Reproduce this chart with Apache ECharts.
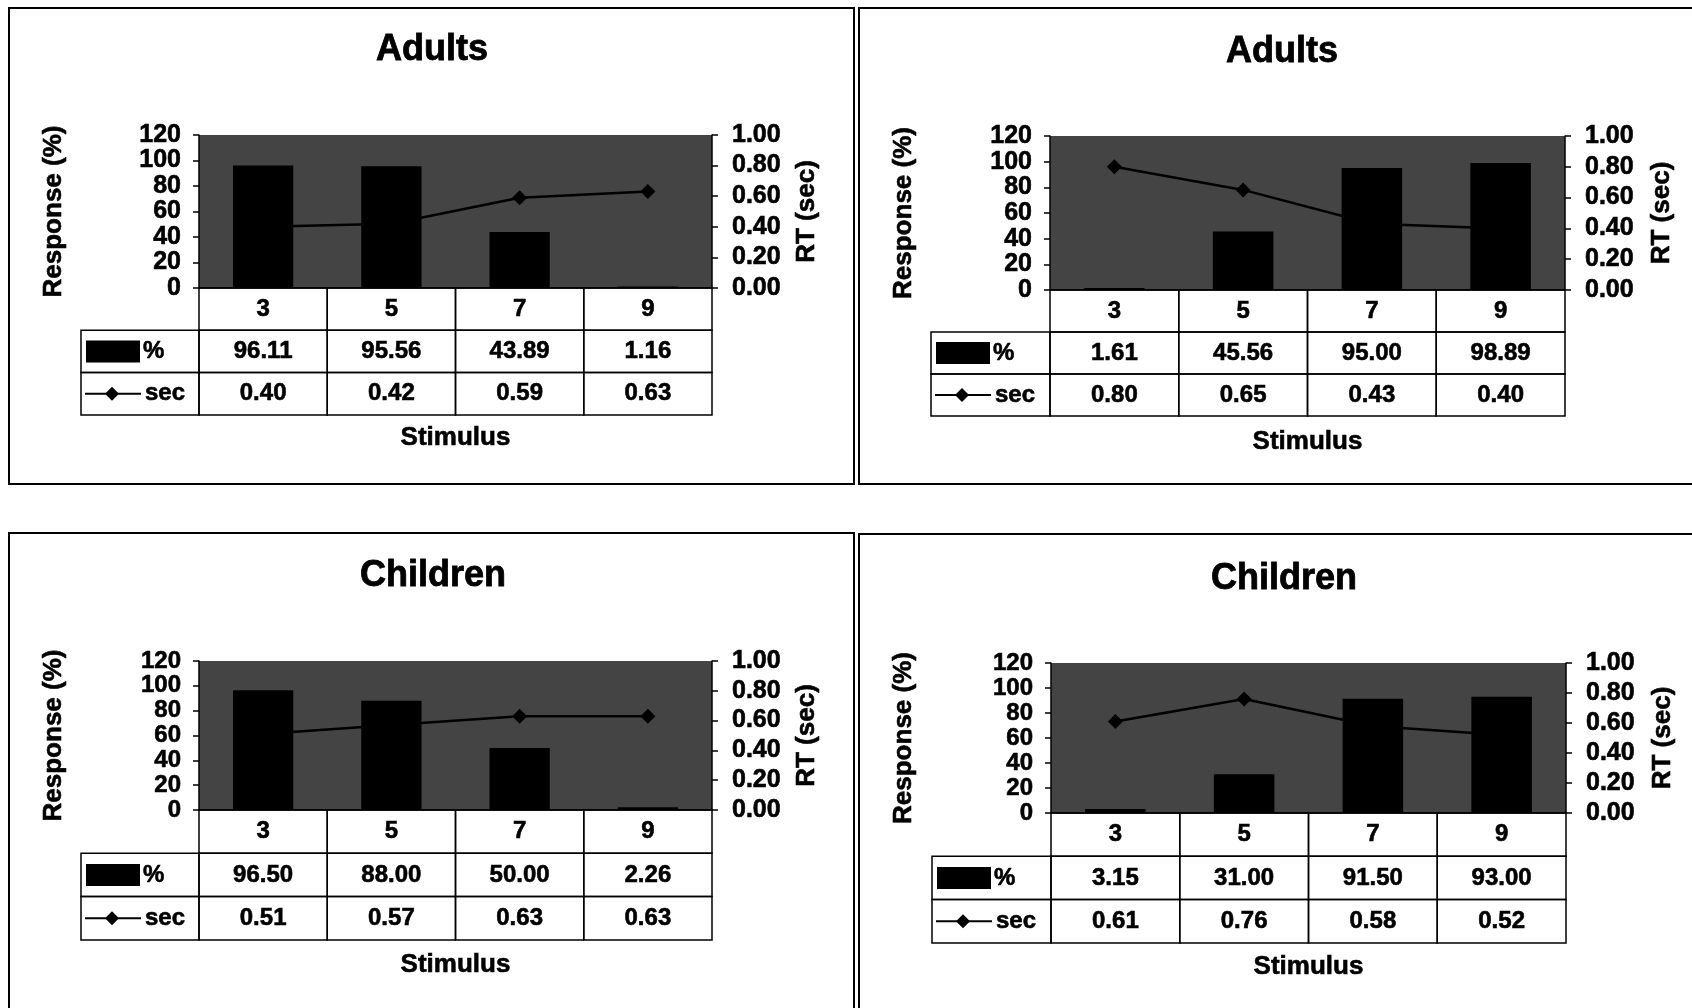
<!DOCTYPE html>
<html>
<head>
<meta charset="utf-8">
<script src="https://cdn.jsdelivr.net/npm/echarts@6/dist/echarts.min.js"></script>
<style>
html,body{margin:0;padding:0;background:#fff;}
#chart{width:1692px;height:1008px;}
</style>
</head>
<body>
<div id="chart"></div>
<script>
// ---------------- data ----------------
const categories = ['3', '5', '7', '9'];
const adultsA_pct = [96.11, 95.56, 43.89, 1.16];
const adultsA_sec = [0.40, 0.42, 0.59, 0.63];
const adultsB_pct = [1.61, 45.56, 95.00, 98.89];
const adultsB_sec = [0.80, 0.65, 0.43, 0.40];
const childrenA_pct = [96.50, 88.00, 50.00, 2.26];
const childrenA_sec = [0.51, 0.57, 0.63, 0.63];
const childrenB_pct = [3.15, 31.00, 91.50, 93.00];
const childrenB_sec = [0.61, 0.76, 0.58, 0.52];
const leftAxisTicks = { min: 0, max: 120, interval: 20 };
const rightAxisTicks = { min: 0, max: 1, interval: 0.2 };
const titles = ['Adults', 'Adults', 'Children', 'Children'];
const leftAxisName = 'Response (%)';
const rightAxisName = 'RT (sec)';
const xAxisName = 'Stimulus';
const pctLegend = '%';
const secLegend = 'sec';

// ---------------- layout ----------------
const FONT = '"Liberation Sans", Arial, Helvetica, sans-serif';
const HEAVY = { textBorderColor: '#000', textBorderWidth: 0.6 };
const layout = [
  { box: [9, 8, 845, 476], gl: 199, gr: 712, gt: 135, gb: 288, rowH: 42.3, legendL: 81, titleX: 432, titleY: 51, lnX: 54, rnX: 807, nameGap: 137, tickFont: 25 },
  { box: [859, 8, 860, 476], gl: 1050, gr: 1565, gt: 136, gb: 290, rowH: 42.0, legendL: 931, titleX: 1282, titleY: 53, lnX: 904, rnX: 1662, nameGap: 139, tickFont: 25 },
  { box: [9, 533, 845, 500], gl: 199, gr: 712, gt: 661, gb: 810, rowH: 43.3, legendL: 81, titleX: 433, titleY: 577, lnX: 54, rnX: 807, nameGap: 142, tickFont: 24 },
  { box: [859, 534, 860, 500], gl: 1051, gr: 1566, gt: 663, gb: 813, rowH: 43.3, legendL: 932, titleX: 1284, titleY: 580, lnX: 904, rnX: 1663, nameGap: 141, tickFont: 24 }
];
const pctData = [adultsA_pct, adultsB_pct, childrenA_pct, childrenB_pct];
const secData = [adultsA_sec, adultsB_sec, childrenA_sec, childrenB_sec];

const option = {
  animation: false,
  backgroundColor: '#fff',
  title: [], grid: [], xAxis: [], yAxis: [], series: [], graphic: []
};

const gText = (x, y, text, size, align, rot) => ({
  type: 'text', x: x, y: y, rotation: rot || 0,
  style: { text: text, textAlign: align, textVerticalAlign: 'middle',
    font: 'bold ' + size + 'px ' + FONT, fill: '#000', stroke: '#000', lineWidth: 0.6 }
});

layout.forEach((L, k) => {
  option.title.push({
    text: titles[k], left: L.titleX, top: L.titleY - 19, textAlign: 'center', padding: 0,
    textStyle: { fontSize: 36, fontWeight: 'bold', fontFamily: FONT, color: '#000', textBorderColor: '#000', textBorderWidth: 0.8 }
  });
  option.grid.push({
    left: L.gl, top: L.gt, width: L.gr - L.gl, height: L.gb - L.gt,
    show: true, backgroundColor: '#444444', borderWidth: 0
  });
  option.xAxis.push({
    type: 'category', gridIndex: k, data: categories,
    axisLine: { show: true, lineStyle: { color: '#000', width: 1.5 } },
    axisTick: { show: false },
    axisLabel: Object.assign({ margin: 9, fontSize: 24, fontWeight: 'bold', fontFamily: FONT, color: '#000' }, HEAVY),
    name: xAxisName, nameLocation: 'middle', nameGap: L.nameGap,
    nameTextStyle: Object.assign({ fontSize: 26, fontWeight: 'bold', fontFamily: FONT, color: '#000' }, HEAVY)
  });
  option.yAxis.push({
    type: 'value', gridIndex: k, position: 'left',
    min: leftAxisTicks.min, max: leftAxisTicks.max, interval: leftAxisTicks.interval,
    axisLine: { show: true, lineStyle: { color: '#000', width: 1.5 } },
    axisTick: { show: true, length: 6, lineStyle: { color: '#000', width: 1.5 } },
    splitLine: { show: false },
    axisLabel: Object.assign({ margin: 18, fontSize: L.tickFont, fontWeight: 'bold', fontFamily: FONT, color: '#000',
      showMinLabel: true, showMaxLabel: true, hideOverlap: false }, HEAVY)
  });
  option.yAxis.push({
    type: 'value', gridIndex: k, position: 'right',
    min: rightAxisTicks.min, max: rightAxisTicks.max, interval: rightAxisTicks.interval,
    axisLine: { show: true, lineStyle: { color: '#000', width: 1.5 } },
    axisTick: { show: true, length: 6, lineStyle: { color: '#000', width: 1.5 } },
    splitLine: { show: false },
    axisLabel: Object.assign({ margin: 20, fontSize: 25, fontWeight: 'bold', fontFamily: FONT, color: '#000',
      showMinLabel: true, showMaxLabel: true, hideOverlap: false,
      formatter: v => v.toFixed(2) }, HEAVY)
  });
  option.series.push({
    type: 'bar', xAxisIndex: k, yAxisIndex: 2 * k, data: pctData[k],
    barWidth: '47%', itemStyle: { color: '#000' }, z: 2
  });
  option.series.push({
    type: 'line', xAxisIndex: k, yAxisIndex: 2 * k + 1, data: secData[k],
    symbol: 'diamond', symbolSize: 15, lineStyle: { color: '#000', width: 2.5 },
    itemStyle: { color: '#000' }, z: 4
  });
  // data table cells (under each category), positioned through the category axis
  const rowH = L.rowH;
  const pcts = pctData[k], secs = secData[k];
  option.series.push({
    type: 'custom', xAxisIndex: k, yAxisIndex: 2 * k, clip: false, silent: true, z: 3,
    data: categories.map((c, i) => [i, 0]),
    renderItem: (params, api) => {
      const i = api.value(0);
      const c = api.coord([i, 0]);
      const w = api.size([1, 0])[0];
      const x0 = c[0] - w / 2, y0 = c[1];
      const cell = (yy) => ({ type: 'rect', shape: { x: x0, y: yy, width: w, height: rowH },
        style: { fill: 'none', stroke: '#000', lineWidth: 1.5 } });
      const txt = (yy, t) => ({ type: 'text', style: { x: c[0], y: yy, text: t,
        textAlign: 'center', textVerticalAlign: 'middle',
        font: 'bold 24px ' + FONT, fill: '#000', stroke: '#000', lineWidth: 0.6 } });
      return { type: 'group', children: [
        cell(y0), cell(y0 + rowH), cell(y0 + 2 * rowH),
        txt(y0 + 1.5 * rowH, pcts[i].toFixed(2)),
        txt(y0 + 2.5 * rowH, secs[i].toFixed(2))
      ] };
    }
  });

  // panel frame
  option.graphic.push({ type: 'rect', shape: { x: L.box[0], y: L.box[1], width: L.box[2], height: L.box[3] },
    style: { fill: 'none', stroke: '#000', lineWidth: 2 }, z: 0 });
  // axis names
  option.graphic.push(gText(L.lnX, (L.gt + L.gb) / 2, leftAxisName, 26, 'center', Math.PI / 2));
  option.graphic.push(gText(L.rnX, (L.gt + L.gb) / 2, rightAxisName, 26, 'center', Math.PI / 2));
  // legend key column of the table
  const r1 = L.gb + rowH, r2 = L.gb + 2 * rowH, lw = L.gl - L.legendL;
  option.graphic.push({ type: 'rect', shape: { x: L.legendL, y: r1, width: lw, height: rowH },
    style: { fill: 'none', stroke: '#000', lineWidth: 1.5 } });
  option.graphic.push({ type: 'rect', shape: { x: L.legendL, y: r2, width: lw, height: rowH },
    style: { fill: 'none', stroke: '#000', lineWidth: 1.5 } });
  option.graphic.push({ type: 'rect', shape: { x: L.legendL + 5, y: r1 + rowH / 2 - 11, width: 54, height: 22 },
    style: { fill: '#000' } });
  option.graphic.push(gText(L.legendL + 62, r1 + rowH / 2, pctLegend, 24, 'left'));
  option.graphic.push({ type: 'line', shape: { x1: L.legendL + 4, y1: r2 + rowH / 2, x2: L.legendL + 60, y2: r2 + rowH / 2 },
    style: { stroke: '#000', lineWidth: 2 } });
  const dx = L.legendL + 31, dy = r2 + rowH / 2;
  option.graphic.push({ type: 'polygon', shape: { points: [[dx, dy - 7], [dx + 7, dy], [dx, dy + 7], [dx - 7, dy]] },
    style: { fill: '#000' } });
  option.graphic.push(gText(L.legendL + 64, r2 + rowH / 2, secLegend, 24, 'left'));
});

const chart = echarts.init(document.getElementById('chart'), null, { renderer: 'canvas' });
chart.setOption(option);
</script>
</body>
</html>
